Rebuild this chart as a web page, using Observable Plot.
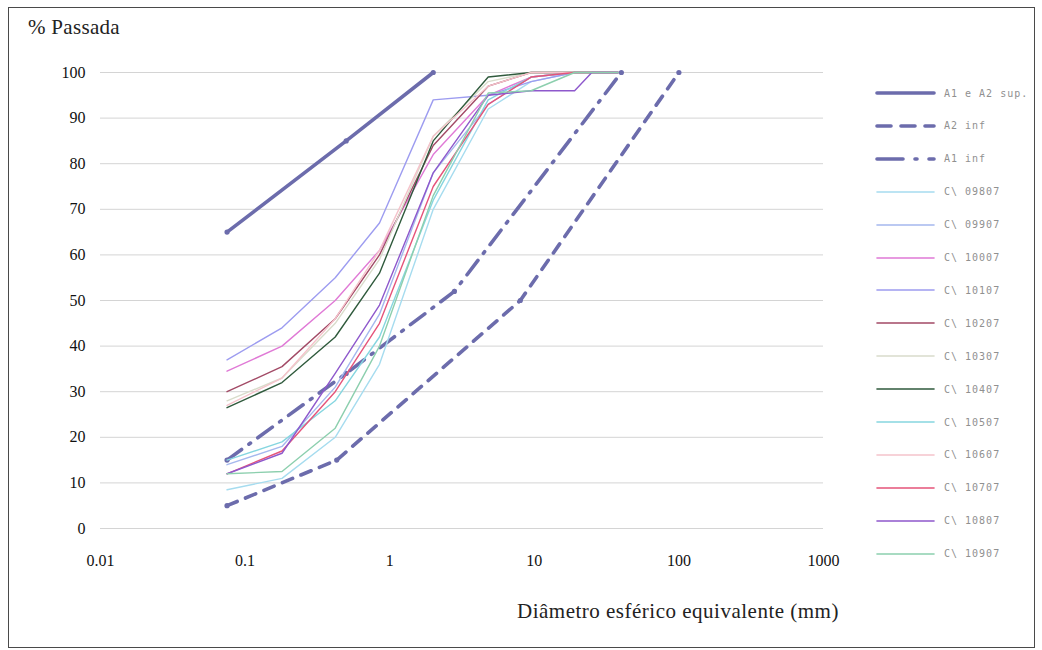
<!DOCTYPE html>
<html>
<head>
<meta charset="utf-8">
<script src="https://cdn.jsdelivr.net/npm/d3@7"></script>
<script src="https://cdn.jsdelivr.net/npm/@observablehq/plot@0.6"></script>
<style>
  body { margin: 0; background: #fff; }
  #wrap { position: relative; width: 1042px; height: 650px; overflow: hidden; background: #fff; }
  #frame { position: absolute; left: 8px; top: 7px; width: 1027px; height: 641px; border: 1.5px solid #4a4a4a; box-sizing: border-box; }
  #chart { position: absolute; left: 0; top: 0; }
  #title { position: absolute; left: 28px; top: 15px; font-family: "Liberation Serif", Tinos, "Times New Roman", serif; font-size: 21px; letter-spacing: 0.3px; color: #222; }
  #xtitle { position: absolute; left: 517px; top: 599px; font-family: "Liberation Serif", Tinos, "Times New Roman", serif; font-size: 21px; letter-spacing: 0.5px; color: #222; }
  #legend { position: absolute; left: 0; top: 0; }
  .li { position: absolute; left: 874px; height: 14px; display: flex; align-items: center; }
  .li svg { display: block; }
  .li span { margin-left: 8px; font-family: "DejaVu Sans Mono", monospace; font-size: 10px; letter-spacing: 1px; color: #909090; white-space: nowrap; }
</style>
</head>
<body>
<div id="wrap">
  <div id="frame"></div>
  <div id="chart"></div>
  <div id="title">% Passada</div>
  <div id="xtitle">Diâmetro esférico equivalente (mm)</div>
  <div id="legend"></div>
</div>
<script>
// ---- Data ----
const xTicks = [0.01, 0.1, 1, 10, 100, 1000];
const xTickLabels = ["0.01", "0.1", "1", "10", "100", "1000"];
const yTicks = [0, 10, 20, 30, 40, 50, 60, 70, 80, 90, 100];

// limit curves (own sieve points)
const supX = [0.075, 0.5, 2];
const supY = [65, 85, 100];
const a2infX = [0.075, 0.43, 8, 100];
const a2infY = [5, 15, 50, 100];
const a1infX = [0.075, 0.5, 2.8, 40];
const a1infY = [15, 34, 52, 100];

// sample curves
const sieves = [0.075, 0.18, 0.42, 0.85, 2, 4.8, 9.5, 19, 25, 38];
const c09807 = [8.5, 11, 20, 36, 70, 92, 98, 100, 100, 100];
const c09907 = [14, 18, 31, 47, 78, 93, 99, 100, 100, 100];
const c10007 = [34.5, 40, 50, 61, 82, 95, 99, 100, 100, 100];
const c10107 = [37, 44, 55, 67, 94, 95, 98, 100, 100, 100];
const c10207 = [30, 35.5, 46, 60, 84, 97, 100, 100, 100, 100];
const c10307 = [28, 33, 45, 59, 86, 98, 100, 100, 100, 100];
const c10407 = [26.5, 32, 42, 56, 85, 99, 100, 100, 100, 100];
const c10507 = [15, 19, 28, 42, 72, 94, 99, 100, 100, 100];
const c10607 = [27, 33, 46, 61, 86, 97, 100, 100, 100, 100];
const c10707 = [12, 17, 30, 45, 75, 93, 99, 100, 100, 100];
const c10807 = [12, 16.5, 34, 49, 78, 95, 96, 96, 100, 100];
const c10907 = [12, 12.5, 22, 40, 73, 95.5, 96, 100, 100, 100];

const limitNames = ["A1 e A2 sup.", "A2 inf", "A1 inf"];
const curveNames = ["C\\ 09807", "C\\ 09907", "C\\ 10007", "C\\ 10107", "C\\ 10207", "C\\ 10307",
                    "C\\ 10407", "C\\ 10507", "C\\ 10607", "C\\ 10707", "C\\ 10807", "C\\ 10907"];
const curveColors = ["#a6dcef", "#a5b8ee", "#e07ad6", "#9d9cf0", "#a24a66", "#d9dccb",
                     "#2f5a3c", "#86d6e0", "#f5c3cb", "#e5547a", "#8e58cc", "#8ccfae"];
const limitColor = "#6c6cac";

// ---- Build rows ----
const limitSets = [[supX, supY], [a2infX, a2infY], [a1infX, a1infY]];
const limitDash = [null, "11,9", "18,9,2,9"];
const curveVals = [c09807, c09907, c10007, c10107, c10207, c10307, c10407, c10507, c10607, c10707, c10807, c10907];

const limitRows = limitSets.map(([xs, ys], i) => xs.map((d, j) => ({name: limitNames[i], d, p: ys[j]})));
const curveRows = curveVals.map((vals, i) => sieves.map((d, j) => ({name: curveNames[i], d, p: vals[j]})));

const marks = [
  Plot.gridY(yTicks, {stroke: "#d4d4d4", strokeOpacity: 1, strokeWidth: 1}),
  Plot.axisY(yTicks, {tickSize: 0, tickPadding: 15, label: null}),
  Plot.axisX(xTicks, {tickSize: 0, tickPadding: 26, label: null, tickFormat: (d) => xTickLabels[xTicks.indexOf(d)]})
];
limitRows.forEach((rows, i) => {
  marks.push(Plot.line(rows, {x: "d", y: "p", stroke: limitColor, strokeWidth: 3.6, strokeDasharray: limitDash[i] || undefined, strokeLinecap: "round"}));
  marks.push(Plot.dot(rows, {x: "d", y: "p", r: 2.6, fill: limitColor, stroke: "none"}));
});
curveRows.forEach((rows, i) => {
  marks.push(Plot.line(rows, {x: "d", y: "p", stroke: curveColors[i], strokeWidth: 1.4}));
});

const chart = Plot.plot({
  width: 1042,
  height: 650,
  marginLeft: 100,
  marginRight: 219,
  marginTop: 72,
  marginBottom: 122,
  x: {type: "log", domain: [0.01, 1000]},
  y: {domain: [0, 100]},
  style: {fontFamily: "'Liberation Serif', Tinos, 'Times New Roman', serif", fontSize: "16px", color: "#111", background: "transparent"},
  marks
});
document.getElementById("chart").appendChild(chart);

// ---- Legend ----
const legend = document.getElementById("legend");
const allNames = limitNames.concat(curveNames);
allNames.forEach((name, i) => {
  const top = 86 + i * 32.9;
  const isLimit = i < 3;
  const color = isLimit ? limitColor : curveColors[i - 3];
  const dash = isLimit ? limitDash[i] : null;
  const div = document.createElement("div");
  div.className = "li";
  div.style.top = top + "px";
  div.innerHTML = `<svg width="62" height="14"><line x1="3" x2="60" y1="7" y2="7" stroke="${color}" stroke-width="${isLimit ? 3.6 : 1.6}" ${dash ? `stroke-dasharray="${i === 2 ? "26,12,2,12" : "14,10"}"` : ""} stroke-linecap="round"/></svg><span>${name}</span>`;
  legend.appendChild(div);
});
</script>
</body>
</html>
